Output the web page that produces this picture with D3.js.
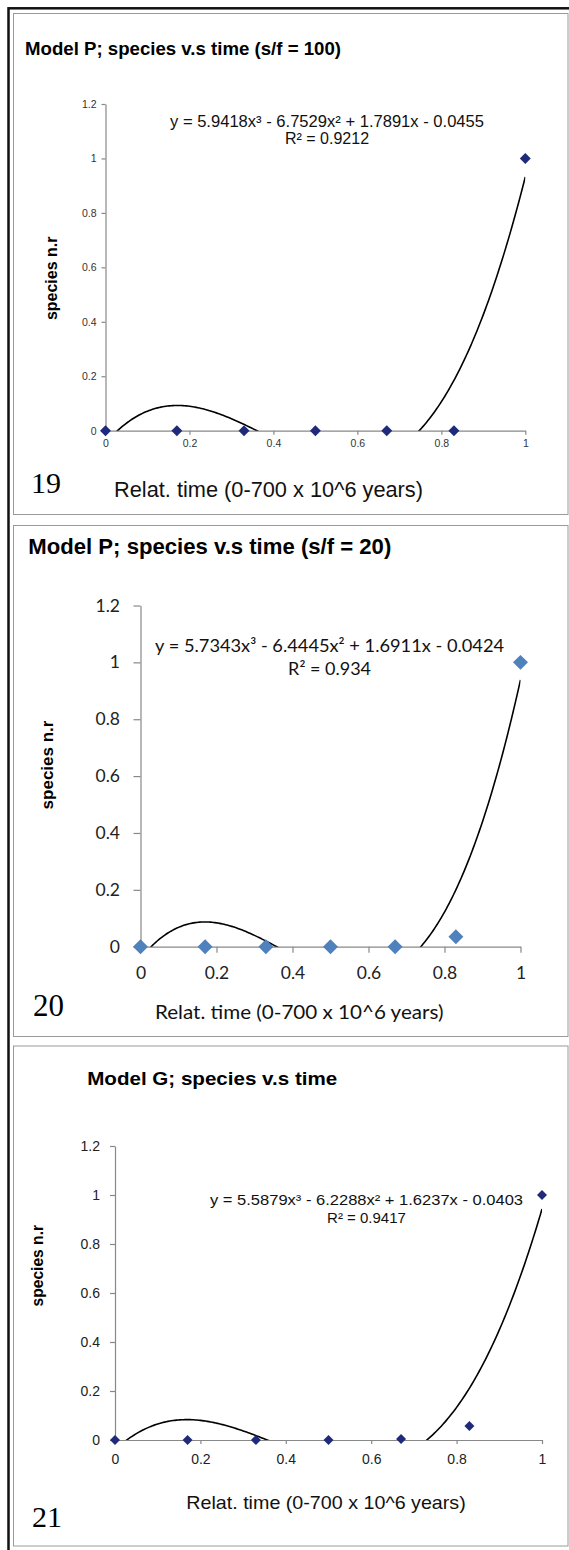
<!DOCTYPE html>
<html>
<head>
<meta charset="utf-8">
<script src="https://cdn.jsdelivr.net/npm/d3@7"></script>
<style>
  html, body { margin: 0; padding: 0; background: #fff; }
  svg { display: block; }
</style>
</head>
<body>
<svg id="chart" width="569" height="1550"></svg>
<script>
// ---------------- data ----------------
const timeValues   = [0, 0.17, 0.33, 0.5, 0.67, 0.83, 1];
const speciesP100  = [0, 0, 0, 0, 0, 0, 1];
const speciesP20   = [0, 0, 0, 0, 0, 0.035, 1];
const speciesG     = [0, 0, 0, 0, 0.004, 0.057, 1];
const coefP100     = [5.9418, -6.7529, 1.7891, -0.0455];
const coefP20      = [5.7343, -6.4445, 1.6911, -0.0424];
const coefG        = [5.5879, -6.2288, 1.6237, -0.0403];
const rSquared     = ["0.9212", "0.934", "0.9417"];
const equations    = [
  "y = 5.9418x³ - 6.7529x² + 1.7891x - 0.0455",
  "y = 5.7343x³ - 6.4445x² + 1.6911x - 0.0424",
  "y = 5.5879x³ - 6.2288x² + 1.6237x - 0.0403"
];
const titles       = [
  "Model P; species v.s time (s/f = 100)",
  "Model P; species v.s time (s/f = 20)",
  "Model G; species v.s time"
];
const panelNumbers = ["19", "20", "21"];
const xTickValues  = [0, 0.2, 0.4, 0.6, 0.8, 1];
const yTickValues  = [0, 0.2, 0.4, 0.6, 0.8, 1, 1.2];
const xAxisTitle   = "Relat. time (0-700 x 10^6 years)";
const yAxisTitle   = "species n.r";

// ---------------- layout ----------------
const ARIAL = "'Liberation Sans', Arial, sans-serif";
const CALIBRI = "Lato, 'Liberation Sans', sans-serif";
const SERIF = "'Liberation Serif', 'Times New Roman', serif";

const panels = [
  {
    series: speciesP100, coef: coefP100, idx: 0,
    box: [13.5, 13.5, 568, 514.5],
    xr: [105.5, 525.3], yr: [430.7, 104],
    title: {x: 25, y: 55, size: 17.5, len: 316, font: ARIAL},
    tickFont: ARIAL, tickSize: 10.5, tickColor: "#333",
    yTick: {len: 4, pad: 5}, xTick: {len: 4, pad: 5},
    eq: {cx: 327, y: 126.7, y2: 144.3, size: 16, len: 314, font: ARIAL},
    ylab: {x: 56.7, y: 278.3, size: 16},
    xlab: {cx: 268.5, y: 496.7, size: 22, len: 309, font: ARIAL},
    num: {x: 31, y: 493, size: 30},
    marker: {color: "#1f2b7a", area: 60}
  },
  {
    series: speciesP20, coef: coefP20, idx: 1,
    box: [13.5, 525.5, 568, 1036.5],
    xr: [140.5, 520.5], yr: [946.7, 605.5],
    title: {x: 28.3, y: 554, size: 22, len: 363, font: ARIAL},
    tickFont: CALIBRI, tickSize: 17.5, tickColor: "#222",
    yTick: {len: 7, pad: 13.5}, xTick: {len: 6, pad: 13.5},
    eq: {cx: 329.6, y: 652, y2: 675.3, size: 18, len: 349, font: CALIBRI},
    ylab: {x: 53.1, y: 765, size: 17},
    xlab: {cx: 299.2, y: 1019, size: 20, len: 288.5, font: CALIBRI},
    num: {x: 33, y: 1016, size: 31},
    marker: {color: "#4f81bd", area: 112}
  },
  {
    series: speciesG, coef: coefG, idx: 2,
    box: [13.5, 1046, 568, 1546],
    xr: [115, 542], yr: [1440, 1146],
    title: {x: 87.2, y: 1085.2, size: 19, len: 250, font: ARIAL},
    tickFont: ARIAL, tickSize: 14, tickColor: "#222",
    yTick: {len: 5, pad: 10}, xTick: {len: 4, pad: 9.6},
    eq: {cx: 366.5, y: 1205.4, y2: 1222.7, size: 15, len: 313, font: ARIAL},
    ylab: {x: 43, y: 1265.7, size: 15.6},
    xlab: {cx: 326, y: 1508.5, size: 19, len: 279.5, font: ARIAL},
    num: {x: 32, y: 1526.7, size: 30},
    marker: {color: "#1f2b7a", area: 50}
  }
];

const svg = d3.select("#chart");
svg.append("rect").attr("width", 569).attr("height", 1550).attr("fill", "#fff");

// outer black frame
svg.append("rect")
  .attr("x", 8.5).attr("y", 8.3).attr("width", 580).attr("height", 1560)
  .attr("fill", "none").attr("stroke", "#111").attr("stroke-width", 2.5);

const fmt = d => String(+d.toFixed(1));
const poly = (c, t) => ((c[0] * t + c[1]) * t + c[2]) * t + c[3];

panels.forEach((p, i) => {
  const g = svg.append("g");
  const [bx0, by0, bx1, by1] = p.box;
  g.append("rect")
    .attr("x", bx0).attr("y", by0).attr("width", bx1 - bx0).attr("height", by1 - by0)
    .attr("fill", "#fff").attr("stroke", "#9a9a9a").attr("stroke-width", 1);

  const x = d3.scaleLinear().domain([0, 1]).range(p.xr);
  const y = d3.scaleLinear().domain([0, 1.2]).range(p.yr);

  // title
  g.append("text")
    .attr("x", p.title.x).attr("y", p.title.y)
    .attr("font-family", p.title.font).attr("font-weight", "bold")
    .attr("font-size", p.title.size)
    .attr("textLength", p.title.len).attr("lengthAdjust", "spacingAndGlyphs")
    .attr("fill", "#000")
    .text(titles[i]);

  // y axis
  const yAxis = g.append("g")
    .attr("transform", `translate(${x(0)},0)`)
    .call(d3.axisLeft(y).tickValues(yTickValues).tickFormat(fmt)
      .tickSize(p.yTick.len).tickSizeOuter(0).tickPadding(p.yTick.pad));
  // x axis
  const xAxis = g.append("g")
    .attr("transform", `translate(0,${y(0)})`)
    .call(d3.axisBottom(x).tickValues(xTickValues).tickFormat(fmt)
      .tickSize(p.xTick.len).tickSizeOuter(0).tickPadding(p.xTick.pad));

  [yAxis, xAxis].forEach(a => {
    a.select(".domain").attr("stroke", "#888").attr("stroke-width", 1.2);
    a.selectAll(".tick line").attr("stroke", "#888").attr("stroke-width", 1.2);
    a.selectAll(".tick text")
      .attr("font-family", p.tickFont).attr("font-size", p.tickSize)
      .attr("fill", p.tickColor);
  });

  // clip for trendline
  const clipId = "clip" + i;
  g.append("clipPath").attr("id", clipId)
    .append("rect")
    .attr("x", x(0)).attr("y", y(1.2))
    .attr("width", x(1) - x(0)).attr("height", y(0) - y(1.2));

  const samples = d3.range(0, 1.0001, 0.004);
  const line = d3.line().x(t => x(t)).y(t => y(poly(p.coef, t))).curve(d3.curveLinear);
  g.append("path")
    .attr("clip-path", `url(#${clipId})`)
    .attr("d", line(samples))
    .attr("fill", "none").attr("stroke", "#000").attr("stroke-width", 1.6);

  // markers
  const sym = d3.symbol().type(d3.symbolSquare).size(p.marker.area);
  g.selectAll("path.pt")
    .data(timeValues.map((t, k) => [t, p.series[k]]))
    .enter().append("path")
    .attr("class", "pt")
    .attr("d", sym)
    .attr("transform", d => `translate(${x(d[0])},${y(d[1])}) rotate(45)`)
    .attr("fill", p.marker.color);

  // equation and R²
  g.append("text")
    .attr("x", p.eq.cx).attr("y", p.eq.y).attr("text-anchor", "middle")
    .attr("font-family", p.eq.font).attr("font-size", p.eq.size)
    .attr("textLength", p.eq.len).attr("lengthAdjust", "spacingAndGlyphs")
    .attr("fill", "#111")
    .text(equations[i]);
  g.append("text")
    .attr("x", p.eq.cx).attr("y", p.eq.y2).attr("text-anchor", "middle")
    .attr("font-family", p.eq.font).attr("font-size", p.eq.size)
    .attr("fill", "#111")
    .text("R² = " + rSquared[i]);

  // y axis title
  g.append("text")
    .attr("transform", `translate(${p.ylab.x},${p.ylab.y}) rotate(-90)`)
    .attr("text-anchor", "middle")
    .attr("font-family", ARIAL).attr("font-weight", "bold")
    .attr("font-size", p.ylab.size).attr("fill", "#000")
    .text(yAxisTitle);

  // x axis title
  g.append("text")
    .attr("x", p.xlab.cx).attr("y", p.xlab.y).attr("text-anchor", "middle")
    .attr("font-family", p.xlab.font).attr("font-size", p.xlab.size)
    .attr("textLength", p.xlab.len).attr("lengthAdjust", "spacingAndGlyphs")
    .attr("fill", "#111")
    .text(xAxisTitle);

  // figure number
  g.append("text")
    .attr("x", p.num.x).attr("y", p.num.y)
    .attr("font-family", SERIF).attr("font-size", p.num.size)
    .attr("fill", "#000")
    .text(panelNumbers[i]);
});
</script>
</body>
</html>
